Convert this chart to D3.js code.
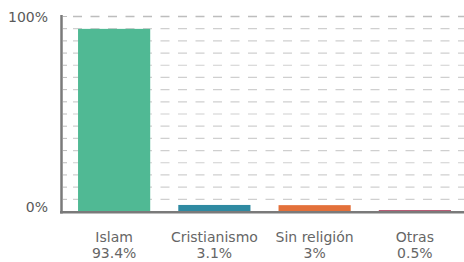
<!DOCTYPE html>
<html>
<head>
<meta charset="utf-8">
<script src="https://cdn.jsdelivr.net/npm/d3@7"></script>
<style>
  body { margin: 0; background: #fff; }
  .chart { width: 464px; height: 262px; overflow: hidden; }
  text { font-family: 'DejaVu Sans', sans-serif; }
</style>
</head>
<body>
<div class="chart"></div>
<script>
// 数据
const categories = ['Islam', 'Cristianismo', 'Sin religión', 'Otras']
const values = [93.4, 3.1, 3, 0.5]
const valueLabels = ['93.4%', '3.1%', '3%', '0.5%']
const colors = ['#50b994', '#2f8aa2', '#e3703a', '#b65a73']
const tickValues = [0, 100]
const tickLabels = ['0%', '100%']
const gridValues = d3.range(0, 100.01, 6.25) // 网格线 16 等分

const width = 464
const height = 262

const svg = d3.select('.chart').append('svg')
  .attr('width', width)
  .attr('height', height)

const x = d3.scaleBand()
  .domain(categories)
  .range([64, 465])
  .paddingInner(0.28)
  .paddingOuter(0.14)

const y = d3.scaleLinear()
  .domain([0, 100])
  .range([211, 16])

// 网格线（虚线）
svg.append('g').attr('class', 'grid')
  .selectAll('line')
  .data(gridValues)
  .join('line')
  .attr('x1', 73)
  .attr('x2', width)
  .attr('y1', d => y(d) + 0.5)
  .attr('y2', d => y(d) + 0.5)
  .attr('stroke', d => d === 100 ? '#bdbdbd' : '#cfcfcf')
  .attr('stroke-width', d => d === 100 ? 1.6 : 1.2)
  .attr('stroke-dasharray', '9,8.5')

// 左轴小刻度
svg.append('g')
  .selectAll('line')
  .data(gridValues.filter(d => d > 0))
  .join('line')
  .attr('x1', 63)
  .attr('x2', 67)
  .attr('y1', d => y(d) + 0.5)
  .attr('y2', d => y(d) + 0.5)
  .attr('stroke', '#bbb')
  .attr('stroke-width', 1)

// 柱子
svg.append('g').attr('class', 'bars')
  .selectAll('rect')
  .data(values)
  .join('rect')
  .attr('x', (d, i) => x(categories[i]))
  .attr('width', x.bandwidth())
  .attr('y', d => y(d))
  .attr('height', d => y(0) - y(d))
  .attr('fill', (d, i) => colors[i])

// 轴线
svg.append('line')
  .attr('x1', 61.5).attr('x2', 61.5)
  .attr('y1', y(100) - 1).attr('y2', y(0) + 2.5)
  .attr('stroke', '#7a7a7a')
  .attr('stroke-width', 2.5)
svg.append('line')
  .attr('x1', 60).attr('x2', width)
  .attr('y1', y(0) + 1.2).attr('y2', y(0) + 1.2)
  .attr('stroke', '#7a7a7a')
  .attr('stroke-width', 2.5)

// y 轴标签
svg.append('g')
  .selectAll('text')
  .data(tickValues)
  .join('text')
  .attr('x', 48)
  .attr('y', d => y(d) + (d === 0 ? 1 : 6))
  .attr('text-anchor', 'end')
  .attr('font-size', '14px')
  .attr('fill', '#5a5a5a')
  .text((d, i) => tickLabels[i])

// x 轴标签
const labelG = svg.append('g')
  .selectAll('g')
  .data(categories)
  .join('g')
  .attr('transform', d => `translate(${x(d) + x.bandwidth() / 2},0)`)
labelG.append('text')
  .attr('y', 242)
  .attr('text-anchor', 'middle')
  .attr('font-size', '14px')
  .attr('fill', '#666')
  .text(d => d)
labelG.append('text')
  .attr('y', 258)
  .attr('text-anchor', 'middle')
  .attr('font-size', '14px')
  .attr('fill', '#666')
  .text((d, i) => valueLabels[i])
</script>
</body>
</html>
